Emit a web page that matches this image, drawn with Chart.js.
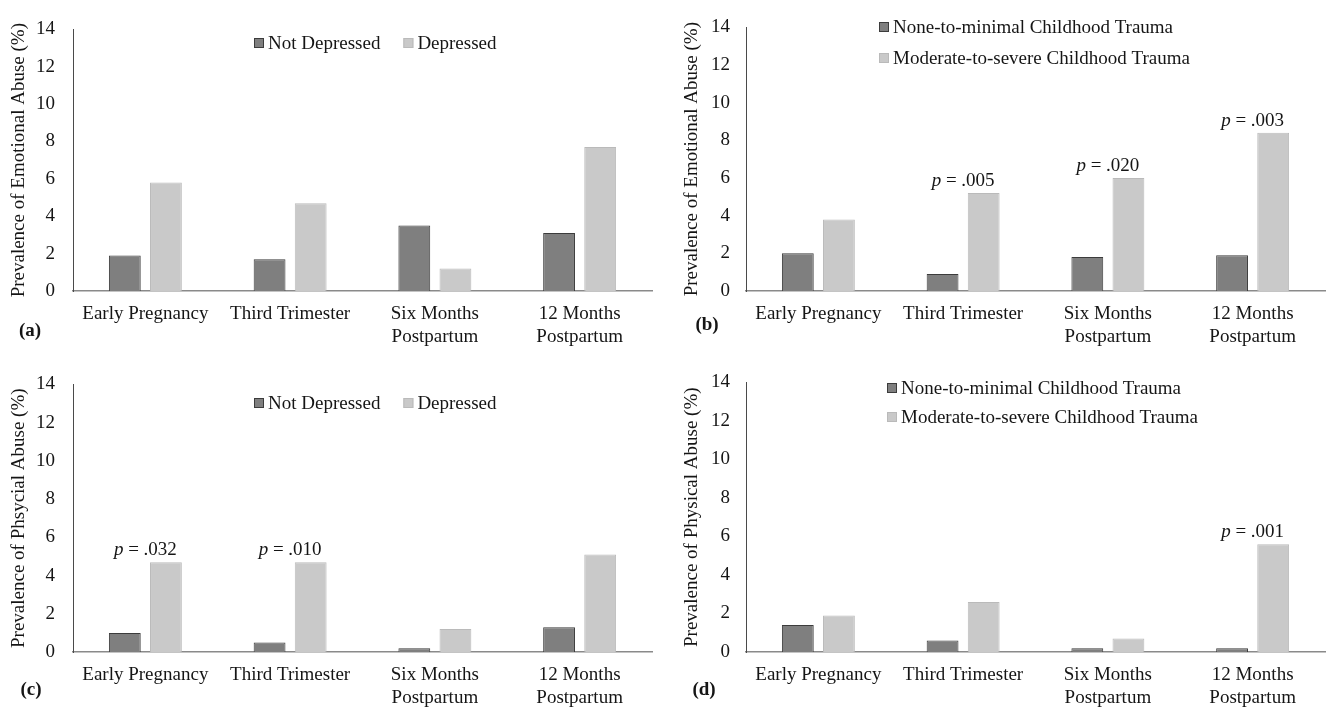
<!DOCTYPE html>
<html>
<head>
<meta charset="utf-8">
<script src="https://cdn.jsdelivr.net/npm/chart.js@4.4.1/dist/chart.umd.min.js"></script>
<style>
  html, body { margin: 0; padding: 0; background: #ffffff; }
  body { width: 1326px; height: 710px; position: relative; overflow: hidden; }
  .panel { position: absolute; width: 663px; height: 355px; }
  canvas { display: block; }
</style>
</head>
<body>
<div class="panel" style="left:0;top:0"><canvas id="ca" width="663" height="355"></canvas></div>
<div class="panel" style="left:663px;top:0"><canvas id="cb" width="663" height="355"></canvas></div>
<div class="panel" style="left:0;top:355px"><canvas id="cc" width="663" height="355"></canvas></div>
<div class="panel" style="left:663px;top:355px"><canvas id="cd" width="663" height="355"></canvas></div>
<script>
// ---------- data ----------
const categories = [["Early Pregnancy"], ["Third Trimester"], ["Six Months", "Postpartum"], ["12 Months", "Postpartum"]];

const depressionLabels = ["Not Depressed", "Depressed"];
const traumaLabels = ["None-to-minimal Childhood Trauma", "Moderate-to-severe Childhood Trauma"];

const emotionalNotDepressed = [1.9, 1.7, 3.5, 3.1];
const emotionalDepressed = [5.8, 4.7, 1.2, 7.7];
const emotionalNoneMinimal = [2.0, 0.9, 1.8, 1.9];
const emotionalModSevere = [3.8, 5.2, 6.0, 8.4];

const physicalNotDepressed = [1.0, 0.5, 0.2, 1.3];
const physicalDepressed = [4.7, 4.7, 1.2, 5.1];
const physicalNoneMinimal = [1.4, 0.6, 0.2, 0.2];
const physicalModSevere = [1.9, 2.6, 0.7, 5.6];

const pEmotionalDepression = [null, null, null, null];
const pEmotionalTrauma = [null, ".005", ".020", ".003"];
const pPhysicalDepression = [".032", ".010", null, null];
const pPhysicalTrauma = [null, null, null, ".001"];

const yMin = 0, yMax = 14, yStep = 2;

// ---------- styles ----------
const FONT = "'Liberation Serif', 'Times New Roman', serif";
const TEXT = '#151515';
const DARK_FILL = '#7f7f7f', DARK_BORDER = '#3c3c3c';
const LIGHT_FILL = '#c9c9c9', LIGHT_BORDER = '#bababa';

Chart.defaults.font.family = FONT;
Chart.defaults.font.size = 19;
Chart.defaults.color = TEXT;

const legendPlugin = {
  id: 'panelLegend',
  afterDraw(chart, args, o) {
    const ctx = chart.ctx;
    ctx.save();
    ctx.font = '19px ' + FONT;
    ctx.textBaseline = 'middle';
    ctx.textAlign = 'left';
    let x = o.x, y = o.y;
    chart.data.datasets.forEach((ds, i) => {
      if (o.column) { x = o.x; y = o.y + i * o.rowGap; }
      ctx.fillStyle = ds.backgroundColor;
      ctx.fillRect(x, y - 5, 10, 10);
      ctx.strokeStyle = ds.borderColor;
      ctx.lineWidth = 1;
      ctx.strokeRect(x + 0.5, y - 4.5, 9, 9);
      ctx.fillStyle = TEXT;
      ctx.fillText(ds.label, x + 14, y + 1);
      if (!o.column) x += 14 + ctx.measureText(ds.label).width + o.gap;
    });
    ctx.restore();
  }
};

const annotationPlugin = {
  id: 'pAnnot',
  afterDatasetsDraw(chart, args, o) {
    const ps = o.values || [];
    const ds = chart.data.datasets[1];
    const ctx = chart.ctx;
    ctx.save();
    ctx.textBaseline = 'middle';
    ctx.textAlign = 'left';
    ctx.fillStyle = TEXT;
    ps.forEach((p, i) => {
      if (!p) return;
      const cx = chart.scales.x.getPixelForValue(i);
      const cy = chart.scales.y.getPixelForValue(ds.data[i]) - 12;
      ctx.font = 'italic 19px ' + FONT;
      const w1 = ctx.measureText('p').width;
      ctx.font = '19px ' + FONT;
      const rest = ' = ' + p;
      const w2 = ctx.measureText(rest).width;
      const start = cx - (w1 + w2) / 2;
      ctx.font = 'italic 19px ' + FONT;
      ctx.fillText('p', start, cy);
      ctx.font = '19px ' + FONT;
      ctx.fillText(rest, start + w1, cy);
    });
    ctx.restore();
  }
};

const tagPlugin = {
  id: 'panelTag',
  afterDraw(chart, args, o) {
    const ctx = chart.ctx;
    ctx.save();
    ctx.font = 'bold 19px ' + FONT;
    ctx.textAlign = 'center';
    ctx.textBaseline = 'middle';
    ctx.fillStyle = TEXT;
    ctx.fillText(o.text, o.x, o.y);
    ctx.restore();
  }
};

function makePanel(id, cfg) {
  new Chart(document.getElementById(id), {
    type: 'bar',
    data: {
      labels: categories,
      datasets: [
        { label: cfg.labels[0], data: cfg.series[0], backgroundColor: DARK_FILL, borderColor: DARK_BORDER, borderWidth: 1 },
        { label: cfg.labels[1], data: cfg.series[1], backgroundColor: LIGHT_FILL, borderColor: LIGHT_BORDER, borderWidth: 1 }
      ]
    },
    plugins: [legendPlugin, annotationPlugin, tagPlugin],
    options: {
      responsive: false,
      animation: false,
      devicePixelRatio: 1,
      categoryPercentage: 0.568,
      barPercentage: 0.774,
      layout: { padding: { top: cfg.top, right: cfg.right, left: 0, bottom: 0 } },
      plugins: {
        legend: { display: false },
        tooltip: { enabled: false },
        panelLegend: cfg.legend,
        pAnnot: { values: cfg.p },
        panelTag: cfg.tag
      },
      scales: {
        x: {
          grid: { display: false, drawTicks: false },
          border: { display: true, color: '#8a8a8a', width: 1.5 },
          ticks: { padding: cfg.xPad, color: TEXT, font: { size: 19, family: FONT, lineHeight: 1.2 }, maxRotation: 0, autoSkip: false },
          afterFit: (s) => { s.height = cfg.xHeight; }
        },
        y: {
          min: yMin, max: yMax,
          grid: { display: false, drawTicks: false },
          border: { display: true, color: '#4a4a4a', width: 1 },
          ticks: { stepSize: yStep, padding: cfg.yPad, color: TEXT, font: { size: 19, family: FONT } },
          title: { display: true, text: cfg.yTitle, color: TEXT, font: { size: 19, family: FONT }, padding: { top: cfg.titlePad, bottom: 0 } },
          afterFit: (s) => { s.width = cfg.yWidth; }
        }
      }
    }
  });
}

makePanel('ca', {
  labels: depressionLabels, series: [emotionalNotDepressed, emotionalDepressed], p: pEmotionalDepression,
  yTitle: 'Prevalence of Emotional Abuse (%)',
  top: 17, right: 11, xHeight: 64, xPad: 12, yWidth: 73, yPad: 18, titlePad: 7.6,
  legend: { x: 254, y: 43, gap: 23, column: false },
  tag: { text: '(a)', x: 30, y: 331 }
});
makePanel('cb', {
  labels: traumaLabels, series: [emotionalNoneMinimal, emotionalModSevere], p: pEmotionalTrauma,
  yTitle: 'Prevalence of Emotional Abuse (%)',
  top: 17, right: 1, xHeight: 64, xPad: 12, yWidth: 83, yPad: 16, titlePad: 18,
  legend: { x: 216, y: 27, rowGap: 31, column: true },
  tag: { text: '(b)', x: 44, y: 325 }
});
makePanel('cc', {
  labels: depressionLabels, series: [physicalNotDepressed, physicalDepressed], p: pPhysicalDepression,
  yTitle: 'Prevalence of Phsycial Abuse (%)',
  top: 24, right: 11, xHeight: 58, xPad: 12, yWidth: 73, yPad: 18, titlePad: 7.6,
  legend: { x: 254, y: 48, gap: 23, column: false },
  tag: { text: '(c)', x: 31, y: 335 }
});
makePanel('cd', {
  labels: traumaLabels, series: [physicalNoneMinimal, physicalModSevere], p: pPhysicalTrauma,
  yTitle: 'Prevalence of Physical Abuse (%)',
  top: 24, right: 1, xHeight: 58, xPad: 12, yWidth: 83, yPad: 16, titlePad: 18,
  legend: { x: 224, y: 33, rowGap: 29, column: true },
  tag: { text: '(d)', x: 41, y: 335 }
});
</script>
</body>
</html>
